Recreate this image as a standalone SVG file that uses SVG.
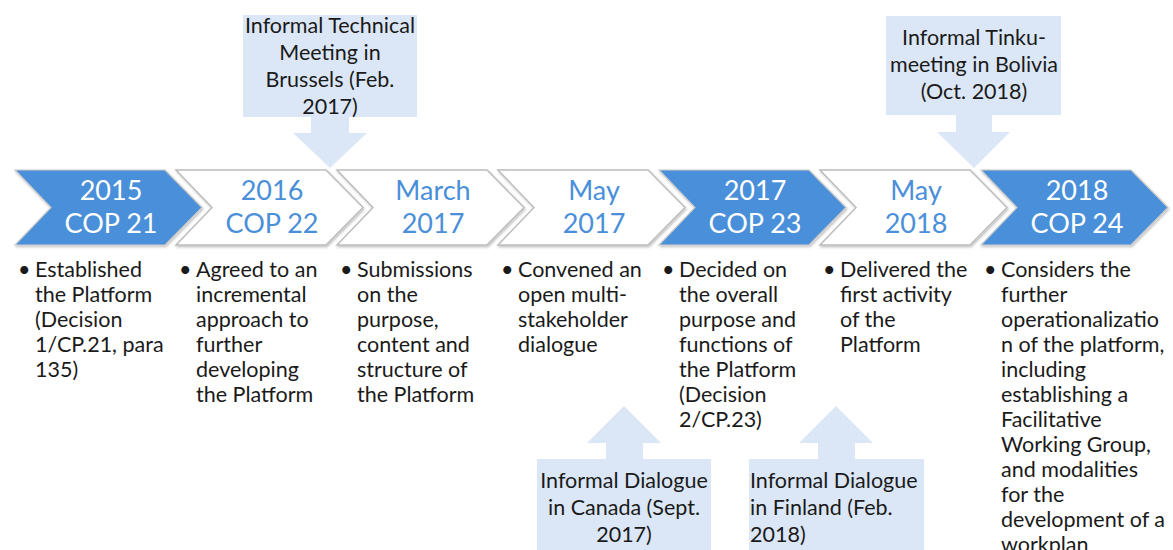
<svg xmlns="http://www.w3.org/2000/svg" width="1173" height="550" viewBox="0 0 1173 550">
<defs>
<style>
.blue{fill:#4a8fd9;stroke:#c9c9c9;stroke-width:1.2}
.white{fill:#ffffff;stroke:#bdbdbd;stroke-width:1.5}
.hb{font-family:Lato,"Liberation Sans",sans-serif;font-size:27px;fill:#ffffff;text-anchor:middle}
.hw{font-family:Lato,"Liberation Sans",sans-serif;font-size:27px;fill:#4a8fd9;text-anchor:middle}
.bt{font-family:Lato,"Liberation Sans",sans-serif;font-size:21.5px;fill:#1a1a1a}
.co{fill:#dbe7f6}
.ct{font-family:Lato,"Liberation Sans",sans-serif;font-size:21.5px;fill:#1a1a1a;text-anchor:middle}
.cl{font-family:Lato,"Liberation Sans",sans-serif;font-size:21.5px;fill:#1a1a1a}
</style>
<filter id="sh" x="-10%" y="-10%" width="120%" height="130%">
<feDropShadow dx="1" dy="1.5" stdDeviation="1" flood-color="#000000" flood-opacity="0.25"/>
</filter>
<path id="chev" d="M0,0 H150 L187,37.5 L150,75 H0 L36,37.5 Z"/>
</defs>

<g id="connectors">
<path id="arrow-brussels" class="co" d="M243,15 H417 V117 H349 V133 H367 L330,168 L293,133 H311 V117 H243 Z"/>
<path id="arrow-bolivia" class="co" d="M886,16 H1061 V115 H992 V132 H1010 L974,168 L937,132 H956 V115 H886 Z"/>
<path id="arrow-canada" class="co" d="M537,550 V459 H606 V443 H587 L624,406 L661,443 H643 V459 H711 V550 Z"/>
<path id="arrow-finland" class="co" d="M749,550 V459 H818 V443 H799 L836,406 L873,443 H855 V459 H924 V550 Z"/>
</g>

<g id="callout-brussels">
<text class="ct" x="330" y="33">Informal Technical</text>
<text class="ct" x="330" y="60">Meeting in</text>
<text class="ct" x="330" y="87">Brussels (Feb.</text>
<text class="ct" x="330" y="114">2017)</text>
</g>
<g id="callout-bolivia">
<text class="ct" x="974" y="45">Informal Tinku-</text>
<text class="ct" x="974" y="72">meeting in Bolivia</text>
<text class="ct" x="974" y="99">(Oct. 2018)</text>
</g>
<g id="callout-canada">
<text class="ct" x="624" y="488">Informal Dialogue</text>
<text class="ct" x="624" y="515">in Canada (Sept.</text>
<text class="ct" x="624" y="542">2017)</text>
</g>
<g id="callout-finland">
<text class="cl" x="750" y="488">Informal Dialogue</text>
<text class="cl" x="750" y="515">in Finland (Feb.</text>
<text class="cl" x="750" y="542">2018)</text>
</g>

<g id="step-2015">
<use href="#chev" x="15" y="170" class="blue" filter="url(#sh)"/>
<text class="hb" x="111" y="200">2015</text>
<text class="hb" x="111" y="233">COP 21</text>
<text class="bt" x="18" y="277">•</text>
<text class="bt" x="35" y="277">Established</text>
<text class="bt" x="35" y="302">the Platform</text>
<text class="bt" x="35" y="327">(Decision</text>
<text class="bt" x="35" y="352">1/CP.21, para</text>
<text class="bt" x="35" y="377">135)</text>
</g>
<g id="step-2016">
<use href="#chev" x="176" y="170" class="white" filter="url(#sh)"/>
<text class="hw" x="272" y="200">2016</text>
<text class="hw" x="272" y="233">COP 22</text>
<text class="bt" x="179" y="277">•</text>
<text class="bt" x="196" y="277">Agreed to an</text>
<text class="bt" x="196" y="302">incremental</text>
<text class="bt" x="196" y="327">approach to</text>
<text class="bt" x="196" y="352">further</text>
<text class="bt" x="196" y="377">developing</text>
<text class="bt" x="196" y="402">the Platform</text>
</g>
<g id="step-march-2017">
<use href="#chev" x="337" y="170" class="white" filter="url(#sh)"/>
<text class="hw" x="433" y="200">March</text>
<text class="hw" x="433" y="233">2017</text>
<text class="bt" x="340" y="277">•</text>
<text class="bt" x="357" y="277">Submissions</text>
<text class="bt" x="357" y="302">on the</text>
<text class="bt" x="357" y="327">purpose,</text>
<text class="bt" x="357" y="352">content and</text>
<text class="bt" x="357" y="377">structure of</text>
<text class="bt" x="357" y="402">the Platform</text>
</g>
<g id="step-may-2017">
<use href="#chev" x="498" y="170" class="white" filter="url(#sh)"/>
<text class="hw" x="594" y="200">May</text>
<text class="hw" x="594" y="233">2017</text>
<text class="bt" x="501" y="277">•</text>
<text class="bt" x="518" y="277">Convened an</text>
<text class="bt" x="518" y="302">open multi-</text>
<text class="bt" x="518" y="327">stakeholder</text>
<text class="bt" x="518" y="352">dialogue</text>
</g>
<g id="step-2017-cop23">
<use href="#chev" x="659" y="170" class="blue" filter="url(#sh)"/>
<text class="hb" x="755" y="200">2017</text>
<text class="hb" x="755" y="233">COP 23</text>
<text class="bt" x="662" y="277">•</text>
<text class="bt" x="679" y="277">Decided on</text>
<text class="bt" x="679" y="302">the overall</text>
<text class="bt" x="679" y="327">purpose and</text>
<text class="bt" x="679" y="352">functions of</text>
<text class="bt" x="679" y="377">the Platform</text>
<text class="bt" x="679" y="402">(Decision</text>
<text class="bt" x="679" y="427">2/CP.23)</text>
</g>
<g id="step-may-2018">
<use href="#chev" x="820" y="170" class="white" filter="url(#sh)"/>
<text class="hw" x="916" y="200">May</text>
<text class="hw" x="916" y="233">2018</text>
<text class="bt" x="823" y="277">•</text>
<text class="bt" x="840" y="277">Delivered the</text>
<text class="bt" x="840" y="302">first activity</text>
<text class="bt" x="840" y="327">of the</text>
<text class="bt" x="840" y="352">Platform</text>
</g>
<g id="step-2018-cop24">
<use href="#chev" x="981" y="170" class="blue" filter="url(#sh)"/>
<text class="hb" x="1077" y="200">2018</text>
<text class="hb" x="1077" y="233">COP 24</text>
<text class="bt" x="984" y="277">•</text>
<text class="bt" x="1001" y="277">Considers the</text>
<text class="bt" x="1001" y="302">further</text>
<text class="bt" x="1001" y="327">operationalizatio</text>
<text class="bt" x="1001" y="352">n of the platform,</text>
<text class="bt" x="1001" y="377">including</text>
<text class="bt" x="1001" y="402">establishing a</text>
<text class="bt" x="1001" y="427">Facilitative</text>
<text class="bt" x="1001" y="452">Working Group,</text>
<text class="bt" x="1001" y="477">and modalities</text>
<text class="bt" x="1001" y="502">for the</text>
<text class="bt" x="1001" y="527">development of a</text>
<text class="bt" x="1001" y="552">workplan</text>
</g>
</svg>
